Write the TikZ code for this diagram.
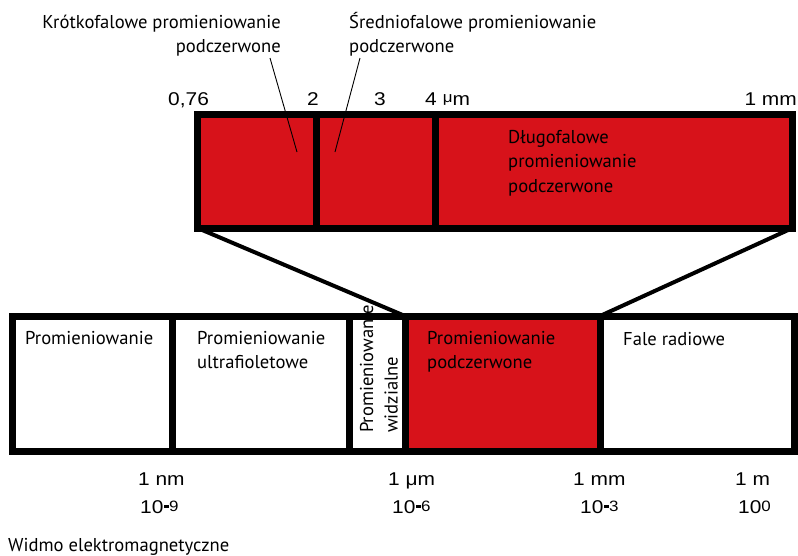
\documentclass[tikz,border=0pt]{standalone}
\usepackage{fontspec}
\newfontfamily\lblfont{PT Sans}
\newfontfamily\numfont[FakeStretch=1.13]{Liberation Sans}
\definecolor{irred}{RGB}{215,18,26}
\newcommand{\twoline}[3]{\begin{tabular}[t]{@{}#1@{}}#2\\#3\end{tabular}}
\newcommand{\threeline}[3]{\begin{tabular}[t]{@{}l@{}}#1\\#2\\#3\end{tabular}}
\newcommand{\tenpow}[1]{10\hspace{0.6pt}\raisebox{5pt}{\rule{5pt}{2.6pt}}\raisebox{1.5pt}{\fontsize{15}{15}\selectfont#1}}
\begin{document}
\begin{tikzpicture}[x=1pt,y=-1pt,
  frame/.style={line width=7pt},
  conn/.style={line width=4pt},
  lead/.style={line width=0.9pt},
  lbl/.style={inner sep=0pt, font=\lblfont\fontsize{18.6}{24.5}\selectfont},
  num/.style={inner sep=0pt, font=\numfont\fontsize{18.5}{20}\selectfont}]
\useasboundingbox (0,0) rectangle (798,555);

% top (infrared zoom) box
\coordinate (TNW) at (197.5,114.5);
\coordinate (TSE) at (792.5,228);
\coordinate (TSW) at (197.5,228);
\coordinate (TNE) at (792.5,114.5);
\coordinate (D2t) at (316,114.5);  \coordinate (D2b) at (316,228);
\coordinate (D4t) at (435,114.5);  \coordinate (D4b) at (435,228);
% bottom spectrum box
\coordinate (BNW) at (12.5,316);
\coordinate (BSE) at (794.5,451.5);
\coordinate (V1t) at (172.5,316); \coordinate (V1b) at (172.5,451.5);
\coordinate (V2t) at (349.5,316); \coordinate (V2b) at (349.5,451.5);
\coordinate (V3t) at (405,316);   \coordinate (V3b) at (405,451.5);
\coordinate (V4t) at (600,316);   \coordinate (V4b) at (600,451.5);

% fills
\fill[irred] (TNW) rectangle (TSE);
\fill[irred] (V3t) rectangle (V4b);

% zoom connectors
\draw[conn] (TSW) -- (V3t);
\draw[conn] (TSE) -- (V4t);

% texts inside bottom box
\node[lbl, anchor=base west] (pr) at (25,344) {Promieniowanie};
\node[lbl, anchor=base west] (uv) at (197,344) {\twoline{l}{Promieniowanie}{ultrafioletowe}};
\node[lbl, anchor=base west, rotate=90] (vis) at (373,433) {\twoline{l}{Promieniowanie}{widzialne}};
\node[lbl, anchor=base west] (ir) at (427,344) {\twoline{l}{Promieniowanie}{podczerwone}};
\node[lbl, anchor=base west] (radio) at (623,345) {Fale radiowe};

% borders
\draw[frame] (TNW) rectangle (TSE);
\draw[frame] (D2t) -- (D2b);
\draw[frame] (D4t) -- (D4b);
\draw[frame] (BNW) rectangle (BSE);
\draw[frame] (V1t) -- (V1b);
\draw[frame] (V2t) -- (V2b);
\draw[frame] (V3t) -- (V3b);
\draw[frame] (V4t) -- (V4b);

% top labels and leaders
\node[lbl, anchor=base east] (short) at (281,28) {\twoline{r}{Krótkofalowe promieniowanie}{podczerwone}};
\node[lbl, anchor=base west] (mid) at (349,28) {\twoline{l}{Średniofalowe promieniowanie}{podczerwone}};
\coordinate (L1a) at (270,58); \coordinate (L1b) at (297,152);
\coordinate (L2a) at (360,58); \coordinate (L2b) at (335,152);
\draw[lead] (L1a) -- (L1b);
\draw[lead] (L2a) -- (L2b);
\node[lbl, anchor=base west] (long) at (508,143) {\threeline{Długofalowe}{promieniowanie}{podczerwone}};

% scale of the zoomed box
\node[num, anchor=base west] (n076) at (168,105) {0,76};
\node[num, anchor=base] (n2) at (313,105) {2};
\node[num, anchor=base] (n3) at (380,105) {3};
\node[num, anchor=base west] (n4) at (425,105) {4\hspace{6pt}\raisebox{3pt}{\fontsize{15}{15}\selectfont μ}m};
\node[num, anchor=base east] (n1mm) at (797,105) {1 mm};

% scale of the spectrum
\node[num, anchor=base west] (s1) at (138,485) {1 nm};
\node[num, anchor=base west] (s2) at (388,485) {1 μm};
\node[num, anchor=base west] (s3) at (573,485) {1 mm};
\node[num, anchor=base west] (s4) at (735,485) {1 m};
\node[num, anchor=base west] (e1) at (140,513) {\tenpow{9}};
\node[num, anchor=base west] (e2) at (392,513) {\tenpow{6}};
\node[num, anchor=base west] (e3) at (580,513) {\tenpow{3}};
\node[num, anchor=base west] (e4) at (738,513) {10\raisebox{1.5pt}{\fontsize{15}{15}\selectfont 0}};

\node[lbl, anchor=base west] (title) at (8,551) {Widmo elektromagnetyczne};
\end{tikzpicture}
\end{document}
